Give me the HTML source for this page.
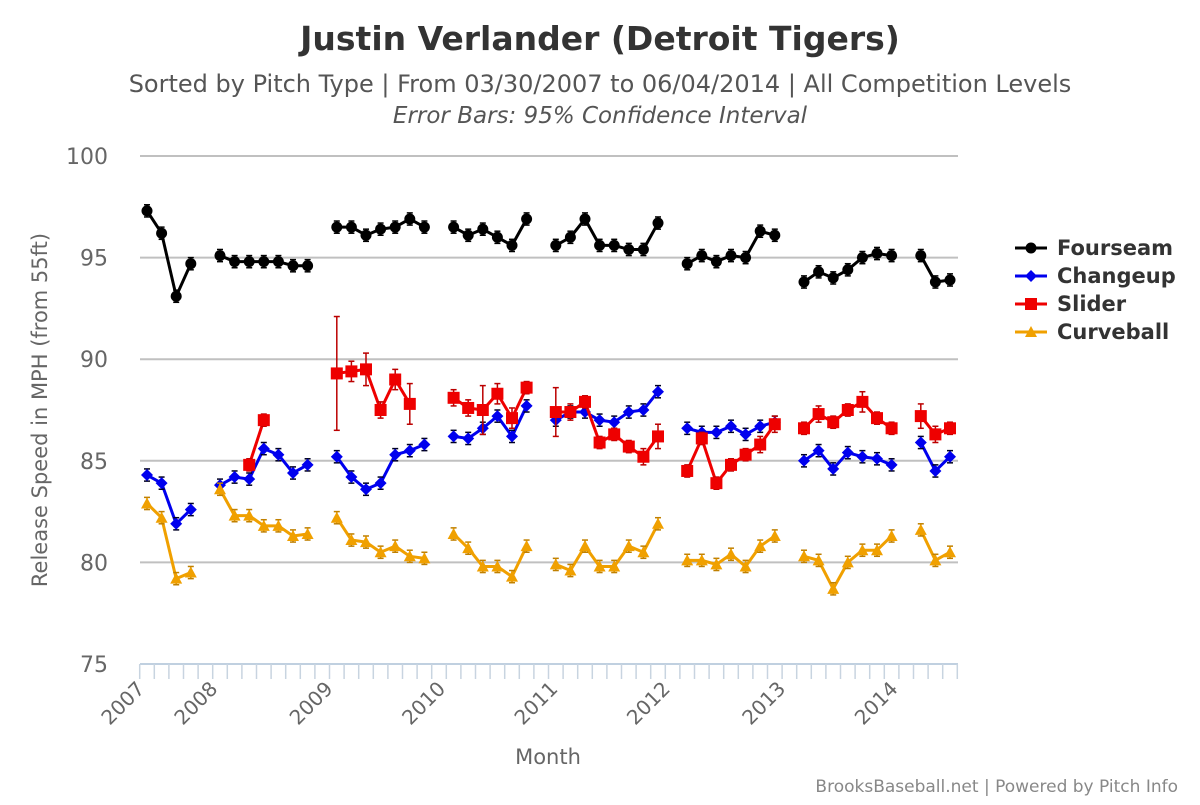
<!DOCTYPE html>
<html><head><meta charset="utf-8"><style>
body{margin:0;background:#fff;font-family:"Liberation Sans","DejaVu Sans",sans-serif}
svg text{font-family:"DejaVu Sans","Liberation Sans",sans-serif}
</style></head><body>
<svg id="chart" width="1200" height="800" xmlns="http://www.w3.org/2000/svg">
<text x="600" y="50" text-anchor="middle" font-size="33" font-weight="bold" fill="#333">Justin Verlander (Detroit Tigers)</text>
<text x="600" y="92" text-anchor="middle" font-size="24" fill="#555">Sorted by Pitch Type | From 03/30/2007 to 06/04/2014 | All Competition Levels</text>
<text x="600" y="123" text-anchor="middle" font-size="23" font-style="italic" fill="#555">Error Bars: 95% Confidence Interval</text>
<text transform="translate(47,410) rotate(-90)" text-anchor="middle" font-size="21" fill="#666">Release Speed in MPH (from 55ft)</text>
<text x="548" y="764" text-anchor="middle" font-size="21" fill="#666">Month</text>
<text x="1178" y="792" text-anchor="end" font-size="17" fill="#888">BrooksBaseball.net | Powered by Pitch Info</text>
<g id="grid"></g><g id="axes"></g><g id="series"></g><g id="legend"></g>
</svg>
<script>
const yTicks=[75,80,85,90,95,100];
const yearLabels=["2007","2008","2009","2010","2011","2012","2013","2014"];
const yearSlots=[-0.5,4.5,12.4,20.1,27.8,35.5,43.4,51.1];
const N=null;
const fourseam=[97.3,96.2,93.1,94.7,N, 95.1,94.8,94.8,94.8,94.8,94.6,94.6,N, 96.5,96.5,96.1,96.4,96.5,96.9,96.5,N, 96.5,96.1,96.4,96.0,95.6,96.9,N, 95.6,96.0,96.9,95.6,95.6,95.4,95.4,96.7,N, 94.7,95.1,94.8,95.1,95.0,96.3,96.1,N, 93.8,94.3,94.0,94.4,95.0,95.2,95.1,N, 95.1,93.8,93.9];
const changeup=[84.3,83.9,81.9,82.6,N, 83.8,84.2,84.1,85.6,85.3,84.4,84.8,N, 85.2,84.2,83.6,83.9,85.3,85.5,85.8,N, 86.2,86.1,86.6,87.2,86.2,87.7,N, 87.0,87.4,87.4,87.0,86.9,87.4,87.5,88.4,N, 86.6,86.4,86.4,86.7,86.3,86.7,86.9,N, 85.0,85.5,84.6,85.4,85.2,85.1,84.8,N, 85.9,84.5,85.2];
const slider=[N,N,N,N,N, N,N,84.8,87.0,N,N,N,N, 89.3,89.4,89.5,87.5,89.0,87.8,N,N, 88.1,87.6,87.5,88.3,87.1,88.6,N, 87.4,87.4,87.9,85.9,86.3,85.7,85.2,86.2,N, 84.5,86.1,83.9,84.8,85.3,85.8,86.8,N, 86.6,87.3,86.9,87.5,87.9,87.1,86.6,N, 87.2,86.3,86.6];
const curveball=[82.9,82.2,79.2,79.5,N, 83.6,82.3,82.3,81.8,81.8,81.3,81.4,N, 82.2,81.1,81.0,80.5,80.8,80.3,80.2,N, 81.4,80.7,79.8,79.8,79.3,80.8,N, 79.9,79.6,80.8,79.8,79.8,80.8,80.5,81.9,N, 80.1,80.1,79.9,80.4,79.8,80.8,81.3,N, 80.3,80.1,78.7,80.0,80.6,80.6,81.3,N, 81.6,80.1,80.5];
const sliderErr=[N,N,N,N,N, N,N,0.3,0.3,N,N,N,N, 2.8,0.5,0.8,0.4,0.5,1.0,N,N, 0.4,0.4,1.2,0.5,0.5,0.3, N, 1.2,0.4,0.3,0.3,0.3,0.3,0.4,0.6,N, 0.3,0.3,0.3,0.3,0.3,0.4,0.4,N, 0.3,0.4,0.3,0.3,0.5,0.3,0.3,N, 0.6,0.4,0.3];
const series=[
 {name:"Fourseam",color:"#000000",marker:"circle",data:fourseam},
 {name:"Changeup",color:"#0000ee",marker:"diamond",data:changeup},
 {name:"Slider",color:"#ee0000",marker:"square",data:slider,err:sliderErr},
 {name:"Curveball",color:"#f0a000",marker:"triangle",data:curveball}];
const X0=140,X1=958,Y0=664,Y1=156,W=14.6;
function x(i){return 147+i*W;}
function y(v){return Y0-(v-75)/(100-75)*(Y0-Y1);}
const NS="http://www.w3.org/2000/svg";
function mk(tag,at,parent){const e=document.createElementNS(NS,tag);for(const k in at)e.setAttribute(k,at[k]);parent.appendChild(e);return e;}
const grid=document.getElementById('grid'),axes=document.getElementById('axes'),sg=document.getElementById('series'),lg=document.getElementById('legend');
yTicks.forEach(t=>{
 if(t>75){const l=mk('line',{x1:X0,x2:X1,y1:y(t),y2:y(t),stroke:'#c0c0c0','stroke-width':2},grid);
 
 }
 const tx=mk('text',{x:108,y:y(t)+8,'text-anchor':'end','font-size':22,fill:'#666'},axes);tx.textContent=t;
 
 
});
const ax=mk('line',{x1:X0,x2:X1,y1:Y0,y2:Y0,stroke:'#c0d0e0','stroke-width':2},axes);


for(let i=0;i<=56;i++){const xx=x(i-0.5);const t=mk('line',{x1:xx,x2:xx,y1:Y0,y2:Y0+15,stroke:'#c8d4e0','stroke-width':1.5},axes);
 
 }
yearLabels.forEach((lab,k)=>{const xx=x(yearSlots[k]);
 const t=mk('text',{x:0,y:0,'text-anchor':'end','font-size':20,fill:'#666',transform:`translate(${xx+6},${Y0+26}) rotate(-45)`},axes);t.textContent=lab;
 
 });
function marker(type,cx,cy,c,parent){
 if(type==='circle')return mk('circle',{cx,cy,r:5.5,fill:c},parent);
 if(type==='square')return mk('rect',{x:cx-6,y:cy-6,width:12,height:12,fill:c},parent);
 if(type==='diamond')return mk('path',{d:`M${cx} ${cy-6}L${cx+6} ${cy}L${cx} ${cy+6}L${cx-6} ${cy}Z`,fill:c},parent);
 return mk('path',{d:`M${cx} ${cy-6}L${cx+6} ${cy+5}L${cx-6} ${cy+5}Z`,fill:c},parent);
}
series.forEach((s,si)=>{
 const g=mk('g',{},sg);
 
 
 let d='',pen=false;
 s.data.forEach((v,i)=>{if(v===null){pen=false;return;}d+=(pen?'L':'M')+x(i)+' '+y(v);pen=true;});
 mk('path',{d,fill:'none',stroke:s.color,'stroke-width':3,'stroke-linejoin':'round'},g);
 s.data.forEach((v,i)=>{if(v===null)return;
  const e=(s.err&&s.err[i]!=null)?s.err[i]:0.3;
  const ec=si===2?'#b00':(si===3?'#c08000':(si===1?'#002':'#000'));
  mk('line',{x1:x(i),x2:x(i),y1:y(v-e),y2:y(v+e),stroke:ec,'stroke-width':1.5},g);
  mk('line',{x1:x(i)-3,x2:x(i)+3,y1:y(v-e),y2:y(v-e),stroke:ec,'stroke-width':1.5},g);
  mk('line',{x1:x(i)-3,x2:x(i)+3,y1:y(v+e),y2:y(v+e),stroke:ec,'stroke-width':1.5},g);
  const m=marker(s.marker,x(i),y(v),s.color,g);
  
  
 });
 const ly=248+si*28;
 const le=mk('g',{},lg);
 
 
 mk('line',{x1:1015,x2:1047,y1:ly,y2:ly,stroke:s.color,'stroke-width':3},le);
 marker(s.marker,1031,ly,s.color,le);
 const t=mk('text',{x:1057,y:ly+7,'font-size':21,'font-weight':'bold',fill:'#333'},le);t.textContent=s.name;
});
</script>
</body></html>
